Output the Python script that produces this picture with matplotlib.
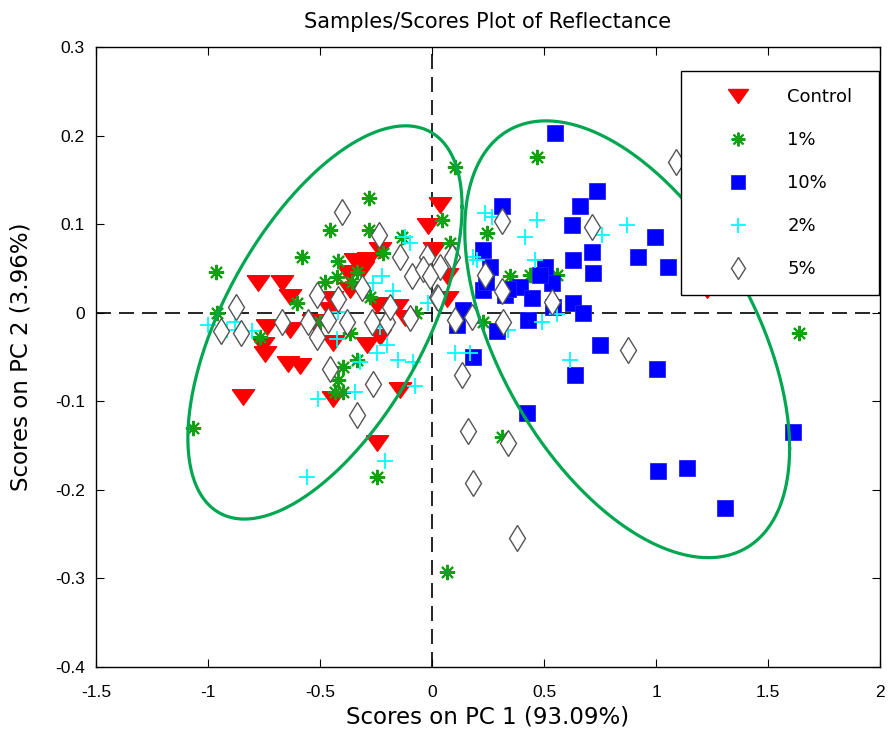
import numpy as np
import matplotlib
matplotlib.use('Agg')
import matplotlib.pyplot as plt

plt.rcParams['font.family'] = ['Liberation Sans', 'DejaVu Sans']
plt.rcParams['axes.unicode_minus'] = False

# scores (PC1, PC2)
ctrl_x = [0.036, -0.018, 0.009, 0.067, 0.067, -0.232, -0.286, -0.308, -0.375, -0.366,
          -0.246, -0.156, -0.121, -0.446, -0.455, -0.777, -0.670, -0.634, -0.737, -0.634,
          -0.754, -0.746, -0.643, -0.589, -0.844, -0.442, -0.290, -0.232, -0.442, -0.143,
          -0.246, 1.228, -0.344, -0.531]
ctrl_y = [0.122, 0.098, 0.071, 0.041, 0.015, 0.071, 0.060, 0.049, 0.045, 0.026,
          0.009, 0.006, -0.006, 0.015, 0.003, 0.033, 0.033, 0.018, -0.016, -0.019,
          -0.036, -0.047, -0.058, -0.060, -0.095, -0.034, -0.036, -0.028, -0.097, -0.087,
          -0.147, 0.026, 0.058, -0.010]

p1_x = [-0.964, -1.067, 0.103, 0.469, 0.067, 0.313, 1.638, -0.246, -0.281, -0.455,
        -0.281, -0.580, -0.420, -0.478, -0.424, -0.357, -0.335, -0.603, -0.134, -0.219,
        -0.277, -0.071, -0.960, -0.768, -0.397, -0.335, -0.420, -0.433, -0.397, -0.366,
        0.045, 0.080, 0.246, 0.348, 0.438, 0.558, 0.228, -0.500]
p1_y = [0.046, -0.130, 0.164, 0.176, -0.293, -0.140, -0.023, -0.185, 0.130, 0.093,
        0.093, 0.063, 0.058, 0.035, 0.040, 0.035, 0.046, 0.011, 0.085, 0.067,
        0.018, 0.000, 0.000, -0.027, -0.061, -0.053, -0.076, -0.090, -0.089, -0.023,
        0.105, 0.079, 0.090, 0.041, 0.043, 0.043, -0.010, -0.011]

p10_x = [0.549, 0.737, 0.661, 0.313, 0.625, 0.996, 0.920, 1.054, 0.714, 0.629,
         0.719, 0.228, 0.259, 0.504, 0.536, 0.228, 0.393, 0.446, 0.326, 0.629,
         0.674, 0.429, 0.138, 0.112, 0.290, 0.183, 0.750, 0.638, 1.004, 0.424,
         1.009, 1.138, 1.308, 1.612, 0.540, 0.480, 0.243, 0.340]
p10_y = [0.203, 0.137, 0.120, 0.120, 0.099, 0.086, 0.063, 0.052, 0.068, 0.060,
         0.045, 0.071, 0.052, 0.052, 0.034, 0.026, 0.029, 0.017, 0.020, 0.011,
         0.000, -0.008, 0.003, -0.014, -0.021, -0.050, -0.036, -0.070, -0.064, -0.113,
         -0.179, -0.175, -0.220, -0.135, 0.007, 0.043, 0.035, 0.027]

p2_x = [-0.558, -0.210, -0.076, -0.509, -0.344, -0.152, -0.085, -0.246, -0.201, -0.321,
        -0.424, -1.000, -0.879, -0.804, -0.121, -0.098, -0.223, -0.174, -0.263, -0.018,
        -0.232, -0.420, 0.237, 0.268, 0.469, 0.415, 0.871, 0.759, 0.183, 0.201,
        0.460, 0.558, 0.491, 0.103, 0.170, 0.616, 0.339, -0.916]
p2_y = [-0.186, -0.168, -0.083, -0.098, -0.089, -0.053, -0.056, -0.045, -0.036, -0.056,
        -0.030, -0.014, -0.010, -0.021, 0.086, 0.079, 0.041, 0.024, 0.034, 0.011,
        -0.016, 0.001, 0.113, 0.108, 0.105, 0.086, 0.099, 0.088, 0.063, 0.060,
        0.060, -0.002, -0.011, -0.045, -0.045, -0.053, -0.019, -0.019]

p5_x = [-0.402, -0.237, -0.143, -0.089, -0.022, -0.040, -0.313, -0.420, -0.513, -0.875,
        -0.942, -0.853, -0.670, -0.554, -0.379, -0.464, -0.268, -0.201, -0.188, -0.098,
        -0.513, 0.022, -0.455, -0.263, -0.335, 0.313, 0.089, 0.036, 0.237, 0.313,
        0.027, 0.536, 0.103, 0.179, 0.317, 0.714, 0.875, 0.134, 0.161, 0.339,
        0.183, 0.379, 1.089, -0.009]
p5_y = [0.114, 0.088, 0.063, 0.041, 0.063, 0.049, 0.028, 0.015, 0.020, 0.006,
        -0.021, -0.023, -0.010, -0.010, -0.010, -0.008, -0.011, -0.011, 0.007, -0.006,
        -0.028, 0.018, -0.064, -0.081, -0.115, 0.103, 0.063, 0.052, 0.043, 0.024,
        0.017, 0.012, -0.008, -0.005, -0.010, 0.097, -0.042, -0.070, -0.134, -0.147,
        -0.192, -0.254, 0.170, 0.041]

labels = ['Control', '1%', '10%', '2%', '5%']

fig = plt.figure(figsize=(8.89, 7.31), dpi=100)
ax = fig.add_axes([0.108, 0.0876, 0.882, 0.8481])

tri = [(-1, 0.7), (1, 0.7), (0, -0.7), (-1, 0.7)]
ax.plot(ctrl_x, ctrl_y, ls='none', marker=tri, ms=16, mfc='#ff0000', mec='#ff0000', label=labels[0])
ax.plot(p1_x, p1_y, ls='none', marker=(8, 2, 0), ms=11, mec='#13a013', mew=1.5, label=labels[1])
ax.plot(p10_x, p10_y, ls='none', marker='s', ms=11.5, mfc='#0000ff', mec='#2222ff', mew=0.6, label=labels[2])
ax.plot(p2_x, p2_y, ls='none', marker='+', ms=12, mec='#00ffff', mew=1.3, label=labels[3])
ax.plot(p5_x, p5_y, ls='none', marker='d', ms=13, mfc='white', mec='#555555', mew=1.0, label=labels[4])

# ellipses drawn round the two groups
t = np.linspace(0, 2 * np.pi, 400)
for cx, cy, A, B, phi in [(-0.478, -0.011, 0.612, 0.222, 54), (0.871, -0.030, 0.725, 0.2466, 120)]:
    ax.plot(cx + A * np.cos(t), cy + B * np.cos(t - np.radians(phi)), color='#00a650', lw=2.3)

ax.axhline(0, color='k', ls=(0, (9, 4.8)), lw=1.2, zorder=1)
ax.axvline(0, color='k', ls=(0, (9, 4.8)), lw=1.2, zorder=1)

ax.set_xlim(-1.5, 2)
ax.set_ylim(-0.4, 0.3)
xt = np.arange(-1.5, 2.01, 0.5)
yt = np.arange(-0.4, 0.301, 0.1)
ax.set_xticks(xt)
ax.set_xticklabels(['%g' % (round(v, 2) + 0.0) for v in xt])
ax.set_yticks(yt)
ax.set_yticklabels(['%g' % (round(v, 2) + 0.0) for v in yt])
ax.tick_params(direction='in', top=True, right=True, length=6, labelsize=12.5)
ax.tick_params(axis='x', pad=13)
ax.tick_params(axis='y', pad=8)
for s in ax.spines.values():
    s.set_linewidth(1.0)

ax.set_title('Samples/Scores Plot of Reflectance', fontsize=15, pad=14, family='DejaVu Sans')
ax.set_xlabel('Scores on PC 1 (93.09%)', fontsize=16.5, labelpad=4, family='DejaVu Sans')
ax.set_ylabel('Scores on PC 2 (3.96%)', fontsize=16.5, labelpad=16, family='DejaVu Sans')

leg = ax.legend(loc='upper left', bbox_to_anchor=(0.746, 0.602, 0.253, 0.359), mode='expand',
                prop={'family': 'DejaVu Sans', 'size': 13},
                frameon=True, fancybox=False, framealpha=1, edgecolor='k',
                labelspacing=1.38, borderpad=0.95, handletextpad=0.55, handlelength=4.4,
                borderaxespad=0, markerscale=0.9)
leg.get_frame().set_linewidth(1.0)
leg.set_zorder(10)

fig.savefig('out.png', dpi=100)
